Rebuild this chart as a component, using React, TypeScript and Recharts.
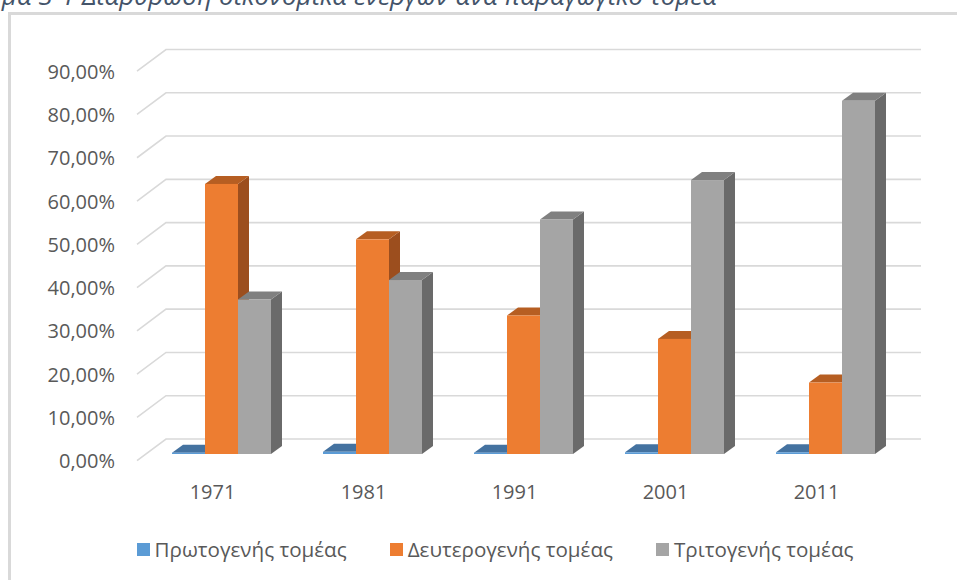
import { BarChart, Bar, XAxis, YAxis, CartesianGrid } from "recharts";

const years = ["1971", "1981", "1991", "2001", "2011"];
const primary = [0.3, 0.5, 0.3, 0.4, 0.4];
const secondary = [62.4, 49.6, 32.0, 26.6, 16.5];
const tertiary = [35.7, 40.2, 54.2, 63.3, 81.6];
const seriesNames = ["Πρωτογενής τομέας", "Δευτερογενής τομέας", "Τριτογενής τομέας"];
const yTicks = [0, 10, 20, 30, 40, 50, 60, 70, 80, 90];
const caption = "Διάγραμμα 3-1 Διάρθρωση οικονομικά ενεργών ανά παραγωγικό τομέα";

const data = years.map((year, i) => ({
  year,
  p: primary[i],
  s: secondary[i],
  t: tertiary[i],
}));

// colours: front, top, side
const BLUE = ["#5b9bd5", "#4472a0", "#3a6590"];
const ORANGE = ["#ed7d31", "#b65e22", "#9c4e1e"];
const GRAY = ["#a5a5a5", "#808080", "#6a6a6a"];

const FONT = "'Open Sans', sans-serif";
const TEXT = "#595959";

// 3d depth of the side wall / floor
const WALL_DX = 29;
const WALL_DY = 21.7;
// where the bar front sits inside that depth, and bar depth
const SHIFT_X = 9;
const SHIFT_Y = 6.7;
const DX = 11;
const DY = 8;

function bar3d(colors: string[]) {
  return (props: any) => {
    const { x, y, width, height } = props;
    const fx = x + SHIFT_X;
    const fy = y - SHIFT_Y;
    const h = Math.max(height, 0);
    return (
      <g>
        <path d={`M${fx + width},${fy} l${DX},${-DY} v${h} l${-DX},${DY} z`} fill={colors[2]} />
        <path d={`M${fx},${fy} l${DX},${-DY} h${width} l${-DX},${DY} z`} fill={colors[1]} />
        <rect x={fx} y={fy} width={width} height={h} fill={colors[0]} />
      </g>
    );
  };
}

const gridLine = (props: any) => {
  const { x1, y1, x2, key } = props;
  return (
    <path
      key={key}
      d={`M${x1},${y1} L${x1 + WALL_DX},${y1 - WALL_DY} L${x2 + WALL_DX},${y1 - WALL_DY}`}
      stroke="#d9d9d9"
      strokeWidth={1.6}
      fill="none"
    />
  );
};

const YTick = ({ x, y, payload }: any) => (
  <text x={x} y={y} textAnchor="end" dominantBaseline="central" fontFamily={FONT} fontSize={20} fill={TEXT}>
    {payload.value.toFixed(2).replace(".", ",") + "%"}
  </text>
);

const XTick = ({ x, y, payload }: any) => (
  <text x={x} y={y + 31} textAnchor="middle" dominantBaseline="central" fontFamily={FONT} fontSize={20} fill={TEXT}>
    {payload.value}
  </text>
);

export default function App() {
  const legendColors = [BLUE[0], ORANGE[0], GRAY[0]];
  return (
    <div style={{ position: "absolute", left: 0, top: 0, width: 957, height: 580, overflow: "hidden", background: "#fff" }}>
      <svg width={957} height={20} style={{ position: "absolute", left: 0, top: 0 }}>
        <text x={717} y={5} textAnchor="end" fontFamily={FONT} fontStyle="italic" fontSize={26} fill="#44546a">
          {caption}
        </text>
      </svg>
      <div
        style={{
          position: "absolute",
          left: 8,
          top: 12,
          width: 1000,
          height: 600,
          borderLeft: "3px solid #d9d9d9",
          borderTop: "3px solid #d9d9d9",
        }}
      />
      <BarChart
        width={957}
        height={580}
        data={data}
        margin={{ top: 71.2, right: 65, bottom: 89.3, left: 77 }}
        barCategoryGap={26}
        barGap={0}
        style={{ position: "absolute", left: 0, top: 0 }}
      >
        <CartesianGrid vertical={false} horizontal={gridLine} />
        <XAxis dataKey="year" height={30} axisLine={false} tickLine={false} tickSize={0} tickMargin={0} tick={<XTick />} />
        <YAxis
          width={60}
          domain={[0, 90]}
          ticks={yTicks}
          axisLine={false}
          tickLine={false}
          tickSize={0}
          tickMargin={22}
          tick={<YTick />}
          interval={0}
        />
        <Bar dataKey="p" name={seriesNames[0]} fill={BLUE[0]} shape={bar3d(BLUE)} isAnimationActive={false} />
        <Bar dataKey="s" name={seriesNames[1]} fill={ORANGE[0]} shape={bar3d(ORANGE)} isAnimationActive={false} />
        <Bar dataKey="t" name={seriesNames[2]} fill={GRAY[0]} shape={bar3d(GRAY)} isAnimationActive={false} />
      </BarChart>
      <div
        style={{
          position: "absolute",
          left: 33,
          top: 536,
          width: 924,
          display: "flex",
          justifyContent: "center",
          gap: 43,
          fontFamily: FONT,
          fontSize: 20.6,
          color: TEXT,
          lineHeight: "26px",
        }}
      >
        {seriesNames.map((name, i) => (
          <div key={name} style={{ display: "flex", alignItems: "center" }}>
            <span style={{ width: 13, height: 13, background: legendColors[i], marginRight: 5, display: "inline-block" }} />
            <span>{name}</span>
          </div>
        ))}
      </div>
    </div>
  );
}
